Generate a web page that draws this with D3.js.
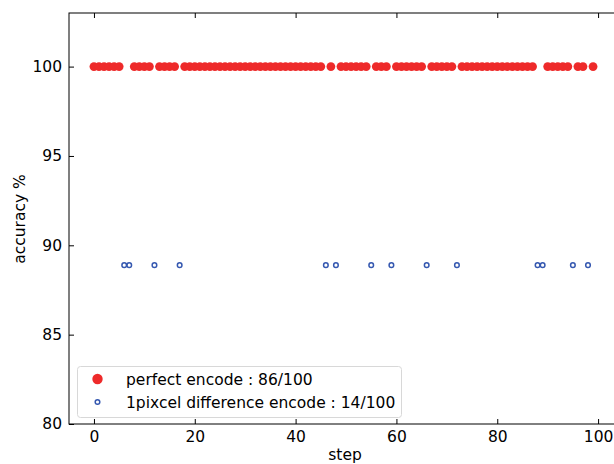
<!DOCTYPE html>
<html><head><meta charset="utf-8">
<script src="https://cdn.jsdelivr.net/npm/d3@7"></script>
<style>body{margin:0;background:#fff}svg{display:block;font-family:"DejaVu Sans",sans-serif}</style>
</head><body><svg id="c" width="614" height="464"></svg>
<script>
const steps = d3.range(0, 100);
const diffSteps = [6, 7, 12, 17, 46, 48, 55, 59, 66, 72, 88, 89, 95, 98];
const perfectValue = 100;
const diffValue = 88.89;
const xTicks = [0, 20, 40, 60, 80, 100];
const yTicks = [80, 85, 90, 95, 100];
const legendLabels = ["perfect encode : 86/100", "1pixcel difference encode : 14/100"];

const perfect = steps.filter(s => !diffSteps.includes(s)).map(s => ({x: s, y: perfectValue}));
const diff = diffSteps.map(s => ({x: s, y: diffValue}));

const svg = d3.select("#c");
const L = 69, R = 618, T = 13, B = 424;
const x = d3.scaleLinear().domain([-4.95, 103.95]).range([L, R]);
const y = d3.scaleLinear().domain([80, 103]).range([B, T]);
const fs = "15.5px";
const red = "#ee2a2a", blue = "#3558b0";

const tl = 5;
const xb = svg.append("g").attr("transform", `translate(0,${B})`).call(d3.axisBottom(x).tickValues(xTicks).tickSize(-tl).tickPadding(7).tickSizeOuter(0));
const xt = svg.append("g").attr("transform", `translate(0,${T})`).call(d3.axisTop(x).tickValues(xTicks).tickSize(-tl).tickFormat("").tickSizeOuter(0));
const yl = svg.append("g").attr("transform", `translate(${L},0)`).call(d3.axisLeft(y).tickValues(yTicks).tickSize(-tl).tickPadding(7).tickSizeOuter(0));
[xb, xt, yl].forEach(g => {
  g.select(".domain").remove();
  g.selectAll("line").attr("stroke", "#000").attr("stroke-width", 1);
  g.selectAll("text").attr("font-size", fs).attr("fill", "#000").attr("font-family", "DejaVu Sans");
});
svg.append("rect").attr("x", L).attr("y", T).attr("width", R - L).attr("height", B - T)
  .attr("fill", "none").attr("stroke", "#000").attr("stroke-width", 1);

svg.append("g").selectAll("circle").data(perfect).join("circle")
  .attr("cx", d => x(d.x)).attr("cy", d => y(d.y)).attr("r", 4.4).attr("fill", red);
svg.append("g").selectAll("circle").data(diff).join("circle")
  .attr("cx", d => x(d.x)).attr("cy", d => y(d.y)).attr("r", 2.3)
  .attr("fill", "none").attr("stroke", blue).attr("stroke-width", 1.5);

svg.append("text").attr("x", 345).attr("y", 460).attr("text-anchor", "middle")
  .attr("font-size", fs).text("step");
svg.append("text").attr("transform", `translate(25,219) rotate(-90)`).attr("text-anchor", "middle")
  .attr("font-size", fs).text("accuracy %");

const lg = svg.append("g");
lg.append("rect").attr("x", 77.5).attr("y", 366.5).attr("width", 324).attr("height", 51).attr("rx", 3)
  .attr("fill", "#fff").attr("fill-opacity", 0.8).attr("stroke", "#d8d8d8");
lg.append("circle").attr("cx", 97.5).attr("cy", 379).attr("r", 5.2).attr("fill", red);
lg.append("circle").attr("cx", 97.5).attr("cy", 402).attr("r", 2.3).attr("fill", "none").attr("stroke", blue).attr("stroke-width", 1.5);
lg.append("text").attr("x", 126).attr("y", 384.5).attr("font-size", fs).text(legendLabels[0]);
lg.append("text").attr("x", 126).attr("y", 407.5).attr("font-size", fs).text(legendLabels[1]);
</script></body></html>
